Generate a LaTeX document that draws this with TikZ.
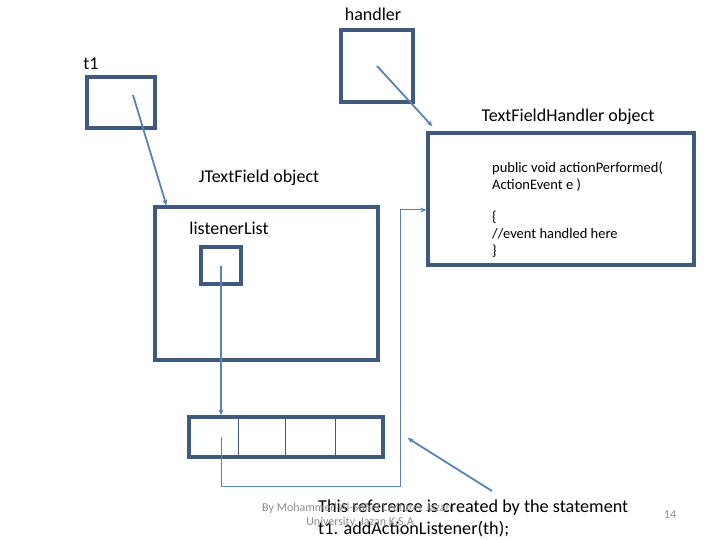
\documentclass[tikz,border=0pt]{standalone}
\usepackage{fontspec}
\setmainfont{Carlito}
\usetikzlibrary{arrows.meta,calc}
\definecolor{boxc}{HTML}{3F5A7E}
\definecolor{linec}{HTML}{5A82B2}
\definecolor{footc}{HTML}{8C8C8C}
\tikzset{
  objbox/.style={draw=boxc, line width=3.2pt, inner sep=0pt},
  ref/.style={draw=linec, line width=1.8pt, -{Stealth[length=6pt,width=5pt]}},
  thinref/.style={draw=linec, line width=1pt, -{Stealth[length=6pt,width=5pt]}},
  divider/.style={draw=boxc, line width=0.9pt},
  lbl/.style={inner sep=0pt, font=\fontsize{18}{21}\selectfont},
  codetxt/.style={inner sep=0pt, align=left, anchor=north west, font=\fontsize{14.5}{17}\selectfont},
  stmt/.style={inner sep=0pt, anchor=west, font=\fontsize{18.2}{22}\selectfont},
  foot/.style={inner sep=0pt, text=footc, font=\fontsize{12}{14}\selectfont}
}
\begin{document}
\begin{tikzpicture}[x=1pt,y=-1pt]
\useasboundingbox (0,0) rectangle (720,540);
% boxes
\node[objbox, minimum width=72pt, minimum height=72pt] (handler) at (377,66) {};
\node[objbox, minimum width=68pt, minimum height=51pt] (t1) at (121,102.5) {};
\node[objbox, minimum width=223pt, minimum height=153pt] (jtf) at (266.5,283.5) {};
\node[objbox, minimum width=40pt, minimum height=37pt] (lst) at (221,265.5) {};
\node[objbox, minimum width=194pt, minimum height=40pt] (arr) at (286,437) {};
\node[objbox, minimum width=266pt, minimum height=132pt] (tfh) at (561,199) {};
% array dividers
\draw[divider] ([xshift=51pt]arr.north west) -- ([xshift=51pt]arr.south west);
\draw[divider] ([xshift=98pt]arr.north west) -- ([xshift=98pt]arr.south west);
\draw[divider] ([xshift=148pt]arr.north west) -- ([xshift=148pt]arr.south west);
% labels
\node[lbl] (lhandler) at (373,14) {handler};
\node[lbl] (lt1) at (91,64) {t1};
\node[lbl] (ljtf) at (259,178) {JTextField object};
\node[lbl] (llist) at (229,228) {listenerList};
\node[lbl] (ltfh) at (568,117) {TextFieldHandler object};
\node[codetxt] (code1) at (492,161.5) {public void actionPerformed(\\ActionEvent e )};
\node[codetxt] (code2) at (492,211) {\{\\//event handled here\\\}};
% statement
\node[stmt] (st1) at (318,508) {This reference is created by the statement};
\node[stmt] (st2) at (318,529) {t1. addActionListener(th);};
\node[foot, anchor=west] (ft1) at (262,508) {By Mohammed Al-Sohel Lecturer Jazan};
\node[foot] (ft2) at (360,522) {University, Jazan K.S.A};
\node[foot] (pg) at (670,515) {14};
% connectors
\coordinate (t1in) at (133,95);
\draw[ref] (t1in) -- ([xshift=13pt]jtf.north west);
\draw[ref] (handler.center) -- ([xshift=6pt,yshift=5pt]tfh.north west);
\draw[ref] (lst.center) -- (lst.center |- arr.north);
\coordinate (cell1) at (221,437);
\coordinate (loop) at (400,486);
\draw[thinref] (cell1) |- (loop) |- ([yshift=-11pt]tfh.west);
\coordinate (stfrom) at (492,491);
\draw[ref] (stfrom) -- ([xshift=23pt,yshift=-1pt]arr.east);
\end{tikzpicture}
\end{document}
